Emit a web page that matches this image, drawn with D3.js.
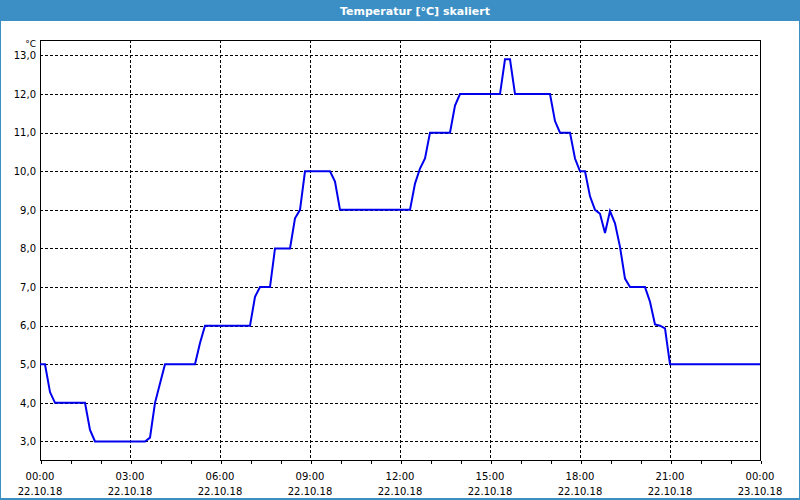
<!DOCTYPE html>
<html>
<head>
<meta charset="utf-8">
<script src="https://cdn.jsdelivr.net/npm/d3@7"></script>
<style>
  html, body { margin: 0; padding: 0; background: #ffffff; }
  svg { display: block; }
  text { font-family: "DejaVu Sans", Verdana, sans-serif; }
</style>
</head>
<body>
<svg id="chart" width="800" height="500"></svg>
<script>
// ---- data ----
const title = "Temperatur [°C] skaliert";
const unit = "°C";
// minutes since 22.10.18 00:00
const minutes = [0,10,20,30,90,100,110,210,220,230,240,250,310,320,330,420,430,440,460,470,500,510,520,530,580,590,600,740,750,760,770,780,820,830,840,920,930,940,950,1020,1030,1040,1060,1070,1080,1090,1100,1110,1120,1130,1140,1150,1160,1170,1180,1210,1220,1230,1240,1250,1260,1440];
const temps   = [5.0,5.0,4.28,4.0,4.0,3.3,3.0,3.0,3.1,4.0,4.5,5.0,5.0,5.55,6.0,6.0,6.75,7.0,7.0,8.0,8.0,8.78,9.0,10.0,10.0,9.73,9.0,9.0,9.68,10.07,10.33,11.0,11.0,11.7,12.0,12.0,12.9,12.9,12.0,12.0,11.3,11.0,11.0,10.33,10.0,10.0,9.35,9.0,8.9,8.4,8.97,8.65,8.04,7.22,7.0,7.0,6.62,6.03,6.0,5.93,5.0,5.0];
const yTicks = [3,4,5,6,7,8,9,10,11,12,13];
const xTickHours = [0,3,6,9,12,15,18,21,24];
const xTickTimes = ["00:00","03:00","06:00","09:00","12:00","15:00","18:00","21:00","00:00"];
const xTickDates = ["22.10.18","22.10.18","22.10.18","22.10.18","22.10.18","22.10.18","22.10.18","22.10.18","23.10.18"];
const minorHours = d3.range(0, 25);

// ---- layout ----
const W = 800, H = 500;
const L = 40, R = 760, T = 40, B = 460;
const svg = d3.select("#chart");

// window frame + title bar
svg.append("rect").attr("x", 0).attr("y", 0).attr("width", W).attr("height", H).attr("fill", "#ffffff");
svg.append("rect").attr("x", 0).attr("y", 0).attr("width", W).attr("height", 21).attr("fill", "#3c8fc4");
svg.append("rect").attr("x", 0).attr("y", 0).attr("width", 1).attr("height", H).attr("fill", "#3c8fc4");
svg.append("rect").attr("x", W - 1).attr("y", 0).attr("width", 1).attr("height", H).attr("fill", "#3c8fc4");
svg.append("rect").attr("x", 0).attr("y", H - 2).attr("width", W).attr("height", 2).attr("fill", "#3c8fc4");
svg.append("text").attr("x", 415).attr("y", 15).attr("text-anchor", "middle")
  .attr("fill", "#ffffff").attr("font-weight", "bold").attr("font-size", "11px")
  .attr("font-family", "'DejaVu Sans Condensed', 'DejaVu Sans', sans-serif")
  .text(title);

// scales
const x = d3.scaleLinear().domain([0, 24]).range([L, R]);
const y = d3.scaleLinear().domain([2.52, 13.4]).range([B, T]);

// grid lines
const grid = svg.append("g").attr("shape-rendering", "crispEdges");
grid.selectAll("line.h").data(yTicks).enter().append("line")
  .attr("x1", L).attr("x2", R)
  .attr("y1", d => Math.round(y(d)) + 0.5).attr("y2", d => Math.round(y(d)) + 0.5)
  .attr("stroke", "#000").attr("stroke-width", 1).attr("stroke-dasharray", "3,2");
grid.selectAll("line.v").data(xTickHours.slice(1, -1)).enter().append("line")
  .attr("y1", T).attr("y2", B)
  .attr("x1", d => Math.round(x(d)) + 0.5).attr("x2", d => Math.round(x(d)) + 0.5)
  .attr("stroke", "#000").attr("stroke-width", 1).attr("stroke-dasharray", "3,2");

// minor ticks on x axis (every hour)
const xAxis = d3.axisBottom(x).tickValues(minorHours).tickSize(3).tickFormat("").tickSizeOuter(0);
const gx = svg.append("g").attr("transform", `translate(0.5,${B + 0.5})`).call(xAxis);
gx.select(".domain").remove();
gx.selectAll("line").attr("stroke", "#000").attr("shape-rendering", "crispEdges");

// plot frame
svg.append("rect").attr("x", L + 0.5).attr("y", T + 0.5).attr("width", R - L).attr("height", B - T)
  .attr("fill", "none").attr("stroke", "#000").attr("stroke-width", 1).attr("shape-rendering", "crispEdges");

// y axis labels
const yAxis = d3.axisLeft(y).tickValues(yTicks).tickSize(0).tickPadding(4)
  .tickFormat(d => d3.format(".1f")(d).replace(".", ","));
const gy = svg.append("g").attr("transform", `translate(${L},0)`).call(yAxis);
gy.select(".domain").remove();
gy.selectAll("text").attr("font-size", "10px").attr("fill", "#000")
  .attr("font-family", "'DejaVu Sans', sans-serif");
svg.append("text").attr("x", 36).attr("y", 47).attr("text-anchor", "end")
  .attr("font-size", "9px").attr("fill", "#000").text(unit);

// x labels (two lines)
const xl = svg.append("g");
xl.selectAll("text.t").data(xTickHours).enter().append("text")
  .attr("x", d => x(d)).attr("y", 480).attr("text-anchor", "middle")
  .attr("font-size", "10px").attr("fill", "#000")
  .text((d, i) => xTickTimes[i]);
xl.selectAll("text.d").data(xTickHours).enter().append("text")
  .attr("x", d => x(d)).attr("y", 495).attr("text-anchor", "middle")
  .attr("font-size", "10px").attr("fill", "#000")
  .text((d, i) => xTickDates[i]);

// series line
const pts = minutes.map((m, i) => [m / 60, temps[i]]);
const line = d3.line().x(d => x(d[0])).y(d => y(d[1]));
svg.append("path").datum(pts).attr("d", line)
  .attr("fill", "none").attr("stroke", "#0000ee").attr("stroke-width", 2)
  .attr("stroke-linejoin", "miter");
</script>
</body>
</html>
